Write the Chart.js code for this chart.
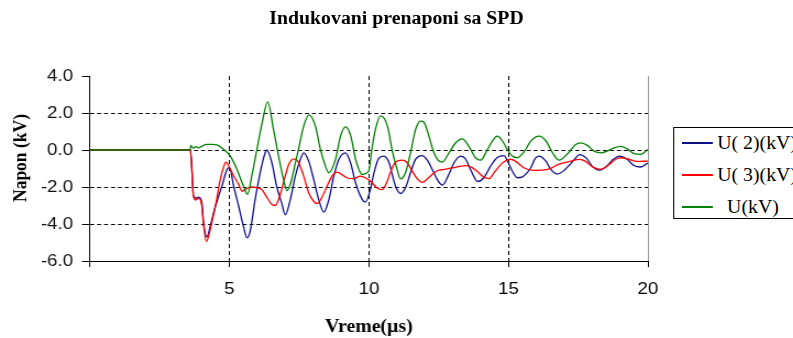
<!DOCTYPE html>
<html>
<head>
<meta charset="utf-8">
<script src="https://cdn.jsdelivr.net/npm/chart.js@4.4.1/dist/chart.umd.min.js"></script>
<style>
    html, body { margin: 0; padding: 0; background: #fff; overflow: hidden; width: 793px; height: 338px; }
    /* the source picture is an Excel chart stretched a bit sideways, so draw narrow and stretch */
    #wrap { position: absolute; left: 0; top: 0; width: 721px; height: 338px; transform: scaleX(1.1); transform-origin: 0 0; }
    #chart { position: absolute; left: 0; top: 0; }
    #title { position: absolute; left: 0; top: 8px; width: 721px; text-align: center; font: bold 18px "Liberation Serif", serif; color: #000; }
    #ytitle { position: absolute; left: 18.2px; top: 158px; transform: translate(-50%, -50%) rotate(-90deg); white-space: nowrap; font: bold 17.5px "Liberation Serif", serif; color: #000; }
    #legend { position: absolute; left: 612px; top: 127px; width: 150px; height: 90px; border: 1px solid #000; background: #fff; font: 18px "Liberation Serif", serif; color: #000; }
    .row { height: 32px; display: flex; align-items: center; white-space: nowrap; }
    .row:first-child { margin-top: -1px; }
    .swatch { width: 28px; height: 1.5px; margin: 0 4px 0 7px; }
</style>
</head>
<body>
<div id="wrap">
    <canvas id="chart" width="721" height="338"></canvas>
    <div id="title">Indukovani prenaponi sa SPD</div>
    <div id="ytitle">Napon (kV)</div>
    <div id="legend"></div>
</div>
<script>
const seriesNames = ["U( 2)(kV)", "U( 3)(kV)", "U(kV)"];
const seriesColors = ["#10108c", "#ff0000", "#008000"];

// U(2) - blue
const timeU2 = [0, 3.6, 3.65, 3.71, 3.8, 3.9, 4.01, 4.07, 4.19, 4.31,
    4.43, 4.61, 4.73, 4.91, 5.0, 5.15, 5.33, 5.5, 5.63, 5.74,
    5.92, 6.1, 6.28, 6.34, 6.52, 6.69, 6.87, 7.0, 7.18, 7.36,
    7.54, 7.66, 7.84, 8.02, 8.2, 8.38, 8.56, 8.74, 8.92, 9.16,
    9.34, 9.52, 9.76, 9.87, 10.05, 10.17, 10.35, 10.53, 10.71, 10.95,
    11.13, 11.31, 11.49, 11.67, 11.91, 12.09, 12.27, 12.45, 12.63, 12.87,
    13.05, 13.29, 13.47, 13.64, 13.9, 14.12, 14.36, 14.6, 14.84, 15.0,
    15.14, 15.32, 15.5, 15.8, 15.96, 16.1, 16.34, 16.52, 16.75, 17.0,
    17.15, 17.35, 17.55, 17.8, 18.0, 18.25, 18.5, 18.75, 19.0, 19.25,
    19.5, 19.73, 19.95, 20.0];
const voltU2 = [0, 0, -1.0, -2.5, -2.6, -2.55, -2.86, -3.94, -4.7, -4.12,
    -3.4, -2.5, -1.95, -1.05, -0.95, -1.95, -3.04, -4.12, -4.75, -4.4,
    -2.68, -1.23, -0.15, 0.0, -0.69, -1.95, -2.86, -3.5, -2.68, -1.41,
    -0.51, -0.15, -0.6, -1.6, -2.68, -3.36, -2.7, -1.41, -0.51, -0.15,
    -0.69, -1.77, -2.68, -2.82, -2.14, -1.3, -0.45, -0.33, -0.65, -1.95,
    -2.35, -2.04, -1.23, -0.51, -0.3, -0.55, -1.05, -1.6, -1.9, -1.3,
    -0.69, -0.33, -0.5, -1.05, -1.7, -1.5, -0.87, -0.4, -0.3, -0.7,
    -1.15, -1.5, -1.45, -0.96, -0.45, -0.33, -0.6, -1.05, -1.3, -1.1,
    -0.87, -0.55, -0.25, -0.45, -0.87, -1.09, -0.9, -0.51, -0.33, -0.5,
    -0.84, -0.92, -0.75, -0.7];

// U(3) - red
const timeU3 = [0, 3.6, 3.65, 3.71, 3.8, 3.9, 4.01, 4.07, 4.17, 4.31,
    4.43, 4.55, 4.67, 4.8, 4.87, 4.95, 5.15, 5.33, 5.45, 5.6,
    5.8, 6.0, 6.16, 6.35, 6.52, 6.64, 6.8, 7.0, 7.12, 7.3,
    7.45, 7.66, 7.84, 8.02, 8.14, 8.3, 8.5, 8.68, 8.86, 9.05,
    9.21, 9.45, 9.69, 9.87, 10.05, 10.29, 10.47, 10.65, 10.77, 10.95,
    11.19, 11.35, 11.55, 11.73, 11.91, 12.1, 12.27, 12.45, 12.7, 12.93,
    13.15, 13.51, 13.7, 13.87, 14.1, 14.3, 14.5, 14.75, 14.95, 15.08,
    15.25, 15.55, 15.9, 16.4, 16.8, 17.2, 17.55, 17.75, 18.0, 18.3,
    18.6, 18.85, 19.05, 19.3, 19.6, 20.0];
const voltU3 = [0, 0, -1.0, -2.5, -2.7, -2.6, -3.04, -4.0, -4.95, -4.3,
    -3.49, -2.6, -1.6, -0.87, -0.66, -0.8, -1.41, -1.86, -2.23, -2.1,
    -2.0, -2.05, -2.14, -2.58, -2.95, -3.0, -2.5, -1.41, -0.8, -0.48,
    -0.6, -1.41, -2.32, -2.77, -2.9, -2.6, -1.95, -1.41, -1.2, -1.35,
    -1.5, -1.55, -1.41, -1.5, -1.68, -2.05, -2.14, -1.7, -1.2, -0.66,
    -0.55, -0.65, -1.14, -1.55, -1.75, -1.55, -1.32, -1.12, -1.05, -0.98,
    -0.92, -0.84, -0.95, -1.14, -1.45, -1.55, -1.2, -0.75, -0.55, -0.5,
    -0.6, -0.96, -1.1, -1.05, -0.78, -0.62, -0.51, -0.6, -0.9, -1.05,
    -0.8, -0.5, -0.42, -0.5, -0.62, -0.6];

// U - green
const timeU = [0, 3.58, 3.62, 3.7, 3.8, 3.9, 4.0, 4.2, 4.4, 4.55,
    4.78, 5.03, 5.27, 5.5, 5.65, 5.8, 5.98, 6.17, 6.37, 6.58,
    6.76, 6.94, 7.06, 7.42, 7.66, 7.85, 8.08, 8.26, 8.44, 8.56,
    8.8, 8.98, 9.16, 9.35, 9.52, 9.76, 9.99, 10.1, 10.23, 10.41,
    10.55, 10.68, 10.83, 11.01, 11.13, 11.31, 11.49, 11.67, 11.85, 11.97,
    12.15, 12.33, 12.51, 12.63, 12.87, 13.11, 13.35, 13.58, 13.82, 14.0,
    14.24, 14.42, 14.6, 14.78, 14.96, 15.14, 15.32, 15.56, 15.8, 16.1,
    16.34, 16.58, 16.82, 17.12, 17.41, 17.59, 17.83, 18.07, 18.31, 18.55,
    18.79, 19.03, 19.27, 19.51, 19.75, 19.93, 20.0];
const voltU = [0, 0, 0.25, 0.1, 0.18, 0.12, 0.2, 0.3, 0.3, 0.28,
    0.05, -0.33, -1.05, -1.95, -2.4, -1.4, 0.0, 1.47, 2.6, 1.1,
    -0.33, -1.6, -2.2, -0.33, 1.29, 1.9, 1.29, 0.03, -0.87, -1.23,
    -0.51, 0.75, 1.25, 0.75, -0.5, -1.32, -1.15, 0.0, 1.1, 1.85,
    1.7, 1.2, 0.0, -1.05, -1.56, -1.23, -0.15, 1.1, 1.56, 1.5,
    0.75, -0.15, -0.6, -0.65, -0.15, 0.39, 0.6, 0.2, -0.42, -0.55,
    0.0, 0.48, 0.75, 0.5, 0.03, -0.33, -0.42, -0.1, 0.48, 0.75,
    0.5, -0.15, -0.55, -0.2, 0.3, 0.39, 0.25, -0.06, -0.15, -0.05,
    0.12, 0.2, 0.05, -0.2, -0.24, -0.05, 0.03];

const xTicks = [0, 5, 10, 15, 20];
const yTicks = [-6, -4, -2, 0, 2, 4];

function points(ts, vs) {
    return ts.map((t, i) => ({ x: t, y: vs[i] }));
}

// legend is html so the box can run off the right edge like the source
const legend = document.getElementById("legend");
seriesNames.forEach((name, i) => {
    const row = document.createElement("div");
    row.className = "row";
    row.innerHTML = `<span class="swatch" style="background:${seriesColors[i]}"></span>` +
        `<span style="margin-left:${i === 2 ? 9 : 0}px">${name}</span>`;
    legend.appendChild(row);
});

const tickFont = { family: "Liberation Sans", size: 17 };
const titleFont = { family: "Liberation Serif", size: 18, weight: "bold" };

new Chart(document.getElementById("chart"), {
    type: "line",
    data: {
        datasets: [
            { label: seriesNames[0], data: points(timeU2, voltU2), borderColor: seriesColors[0], order: 3 },
            { label: seriesNames[1], data: points(timeU3, voltU3), borderColor: seriesColors[1], order: 2 },
            { label: seriesNames[2], data: points(timeU, voltU), borderColor: seriesColors[2], order: 1 }
        ]
    },
    options: {
        responsive: false,
        animation: false,
        layout: { padding: { top: 76, right: 132, bottom: 0, left: 0 } },
        elements: {
            point: { radius: 0 },
            line: { borderWidth: 1.3, cubicInterpolationMode: "monotone" }
        },
        plugins: { legend: { display: false }, tooltip: { enabled: false } },
        scales: {
            x: {
                type: "linear",
                min: xTicks[0],
                max: xTicks[xTicks.length - 1],
                afterFit: s => { s.height = 77; },
                afterBuildTicks: s => { s.ticks = xTicks.map(v => ({ value: v })); },
                ticks: {
                    callback: v => v === 0 ? "" : String(v),
                    color: "#000", font: tickFont, padding: 12, maxRotation: 0, autoSkip: false
                },
                grid: {
                    color: c => c.tick?.value === 0 ? "rgba(0,0,0,0)" : c.tick?.value === 20 ? "#9a9a9a" : "#000",
                    tickColor: "#000", tickLength: 6, lineWidth: 1
                },
                border: { color: "#000", width: 1, dash: c => c.tick?.value === 20 ? [] : [4, 3] },
                title: { display: true, text: "Vreme(µs)", font: titleFont, color: "#000", padding: { top: 0, bottom: 0 } }
            },
            y: {
                min: yTicks[0],
                max: yTicks[yTicks.length - 1],
                afterFit: s => { s.width = 81.8; },
                afterBuildTicks: s => { s.ticks = yTicks.map(v => ({ value: v })); },
                ticks: { callback: v => Number(v).toFixed(1), color: "#111", font: tickFont, padding: 8 },
                grid: {
                    color: c => (c.tick?.value === 4 || c.tick?.value === -6) ? "rgba(0,0,0,0)" : "#000",
                    tickColor: "#000", tickLength: 7.3, lineWidth: 1
                },
                border: { color: "#000", width: 1, dash: [3.6, 2.7] },
                // axis title sits a bit above centre in the source, placed as #ytitle
                title: { display: false }
            }
        }
    }
});
</script>
</body>
</html>
